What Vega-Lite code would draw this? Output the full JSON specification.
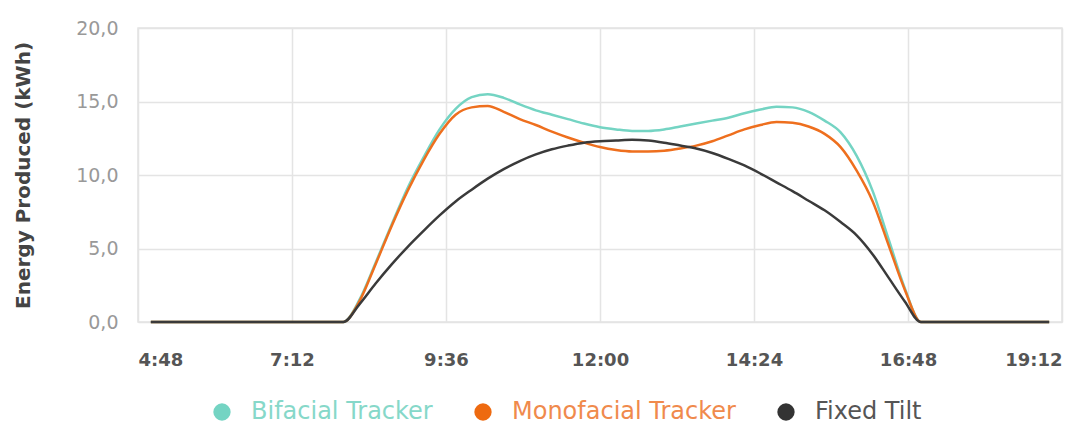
{
  "$schema": "https://vega.github.io/schema/vega-lite/v6.json",
  "width": 924,
  "height": 294,
  "autosize": "none",
  "padding": {"left": 138, "top": 28, "right": 27, "bottom": 103},
  "background": "white",
  "config": {
    "font": "DejaVu Sans",
    "view": {"stroke": "#e4e4e4", "strokeWidth": 1.5}
  },
  "data": {
    "values": [
      {"hour": 5, "series": "Bifacial Tracker", "kwh": 0},
      {"hour": 6, "series": "Bifacial Tracker", "kwh": 0},
      {"hour": 7, "series": "Bifacial Tracker", "kwh": 0},
      {"hour": 8, "series": "Bifacial Tracker", "kwh": 0},
      {"hour": 8.25, "series": "Bifacial Tracker", "kwh": 1.5},
      {"hour": 8.5, "series": "Bifacial Tracker", "kwh": 4.0},
      {"hour": 8.75, "series": "Bifacial Tracker", "kwh": 6.6},
      {"hour": 9, "series": "Bifacial Tracker", "kwh": 9.1},
      {"hour": 9.25, "series": "Bifacial Tracker", "kwh": 11.2},
      {"hour": 9.5, "series": "Bifacial Tracker", "kwh": 13.1},
      {"hour": 9.75, "series": "Bifacial Tracker", "kwh": 14.5},
      {"hour": 10, "series": "Bifacial Tracker", "kwh": 15.3},
      {"hour": 10.25, "series": "Bifacial Tracker", "kwh": 15.5},
      {"hour": 10.5, "series": "Bifacial Tracker", "kwh": 15.25},
      {"hour": 10.75, "series": "Bifacial Tracker", "kwh": 14.8},
      {"hour": 11, "series": "Bifacial Tracker", "kwh": 14.4},
      {"hour": 11.25, "series": "Bifacial Tracker", "kwh": 14.1},
      {"hour": 11.5, "series": "Bifacial Tracker", "kwh": 13.8},
      {"hour": 11.75, "series": "Bifacial Tracker", "kwh": 13.5},
      {"hour": 12, "series": "Bifacial Tracker", "kwh": 13.25},
      {"hour": 12.25, "series": "Bifacial Tracker", "kwh": 13.1},
      {"hour": 12.5, "series": "Bifacial Tracker", "kwh": 13.0},
      {"hour": 12.75, "series": "Bifacial Tracker", "kwh": 13.0},
      {"hour": 13, "series": "Bifacial Tracker", "kwh": 13.1},
      {"hour": 13.25, "series": "Bifacial Tracker", "kwh": 13.3},
      {"hour": 13.5, "series": "Bifacial Tracker", "kwh": 13.5},
      {"hour": 13.75, "series": "Bifacial Tracker", "kwh": 13.7},
      {"hour": 14, "series": "Bifacial Tracker", "kwh": 13.9},
      {"hour": 14.25, "series": "Bifacial Tracker", "kwh": 14.2},
      {"hour": 14.5, "series": "Bifacial Tracker", "kwh": 14.45},
      {"hour": 14.75, "series": "Bifacial Tracker", "kwh": 14.65},
      {"hour": 15, "series": "Bifacial Tracker", "kwh": 14.6},
      {"hour": 15.25, "series": "Bifacial Tracker", "kwh": 14.3},
      {"hour": 15.5, "series": "Bifacial Tracker", "kwh": 13.7},
      {"hour": 15.75, "series": "Bifacial Tracker", "kwh": 12.9},
      {"hour": 16, "series": "Bifacial Tracker", "kwh": 11.3},
      {"hour": 16.25, "series": "Bifacial Tracker", "kwh": 8.9},
      {"hour": 16.5, "series": "Bifacial Tracker", "kwh": 5.6},
      {"hour": 16.75, "series": "Bifacial Tracker", "kwh": 2.3},
      {"hour": 17, "series": "Bifacial Tracker", "kwh": 0},
      {"hour": 18, "series": "Bifacial Tracker", "kwh": 0},
      {"hour": 19, "series": "Bifacial Tracker", "kwh": 0},

      {"hour": 5, "series": "Monofacial Tracker", "kwh": 0},
      {"hour": 6, "series": "Monofacial Tracker", "kwh": 0},
      {"hour": 7, "series": "Monofacial Tracker", "kwh": 0},
      {"hour": 8, "series": "Monofacial Tracker", "kwh": 0},
      {"hour": 8.25, "series": "Monofacial Tracker", "kwh": 1.4},
      {"hour": 8.5, "series": "Monofacial Tracker", "kwh": 3.9},
      {"hour": 8.75, "series": "Monofacial Tracker", "kwh": 6.5},
      {"hour": 9, "series": "Monofacial Tracker", "kwh": 8.9},
      {"hour": 9.25, "series": "Monofacial Tracker", "kwh": 11.0},
      {"hour": 9.5, "series": "Monofacial Tracker", "kwh": 12.8},
      {"hour": 9.75, "series": "Monofacial Tracker", "kwh": 14.1},
      {"hour": 10, "series": "Monofacial Tracker", "kwh": 14.6},
      {"hour": 10.25, "series": "Monofacial Tracker", "kwh": 14.7},
      {"hour": 10.5, "series": "Monofacial Tracker", "kwh": 14.3},
      {"hour": 10.75, "series": "Monofacial Tracker", "kwh": 13.8},
      {"hour": 11, "series": "Monofacial Tracker", "kwh": 13.4},
      {"hour": 11.25, "series": "Monofacial Tracker", "kwh": 12.95},
      {"hour": 11.5, "series": "Monofacial Tracker", "kwh": 12.55},
      {"hour": 11.75, "series": "Monofacial Tracker", "kwh": 12.2},
      {"hour": 12, "series": "Monofacial Tracker", "kwh": 11.9},
      {"hour": 12.25, "series": "Monofacial Tracker", "kwh": 11.7},
      {"hour": 12.5, "series": "Monofacial Tracker", "kwh": 11.6},
      {"hour": 12.75, "series": "Monofacial Tracker", "kwh": 11.6},
      {"hour": 13, "series": "Monofacial Tracker", "kwh": 11.65},
      {"hour": 13.25, "series": "Monofacial Tracker", "kwh": 11.8},
      {"hour": 13.5, "series": "Monofacial Tracker", "kwh": 12.0},
      {"hour": 13.75, "series": "Monofacial Tracker", "kwh": 12.3},
      {"hour": 14, "series": "Monofacial Tracker", "kwh": 12.7},
      {"hour": 14.25, "series": "Monofacial Tracker", "kwh": 13.1},
      {"hour": 14.5, "series": "Monofacial Tracker", "kwh": 13.4},
      {"hour": 14.75, "series": "Monofacial Tracker", "kwh": 13.6},
      {"hour": 15, "series": "Monofacial Tracker", "kwh": 13.55},
      {"hour": 15.25, "series": "Monofacial Tracker", "kwh": 13.3},
      {"hour": 15.5, "series": "Monofacial Tracker", "kwh": 12.8},
      {"hour": 15.75, "series": "Monofacial Tracker", "kwh": 11.9},
      {"hour": 16, "series": "Monofacial Tracker", "kwh": 10.3},
      {"hour": 16.25, "series": "Monofacial Tracker", "kwh": 8.2},
      {"hour": 16.5, "series": "Monofacial Tracker", "kwh": 5.2},
      {"hour": 16.75, "series": "Monofacial Tracker", "kwh": 2.2},
      {"hour": 17, "series": "Monofacial Tracker", "kwh": 0},
      {"hour": 18, "series": "Monofacial Tracker", "kwh": 0},
      {"hour": 19, "series": "Monofacial Tracker", "kwh": 0},

      {"hour": 5, "series": "Fixed Tilt", "kwh": 0},
      {"hour": 6, "series": "Fixed Tilt", "kwh": 0},
      {"hour": 7, "series": "Fixed Tilt", "kwh": 0},
      {"hour": 8, "series": "Fixed Tilt", "kwh": 0},
      {"hour": 8.25, "series": "Fixed Tilt", "kwh": 1.2},
      {"hour": 8.5, "series": "Fixed Tilt", "kwh": 2.6},
      {"hour": 8.75, "series": "Fixed Tilt", "kwh": 3.9},
      {"hour": 9, "series": "Fixed Tilt", "kwh": 5.1},
      {"hour": 9.25, "series": "Fixed Tilt", "kwh": 6.2},
      {"hour": 9.5, "series": "Fixed Tilt", "kwh": 7.25},
      {"hour": 9.75, "series": "Fixed Tilt", "kwh": 8.2},
      {"hour": 10, "series": "Fixed Tilt", "kwh": 9.0},
      {"hour": 10.25, "series": "Fixed Tilt", "kwh": 9.75},
      {"hour": 10.5, "series": "Fixed Tilt", "kwh": 10.4},
      {"hour": 10.75, "series": "Fixed Tilt", "kwh": 10.95},
      {"hour": 11, "series": "Fixed Tilt", "kwh": 11.4},
      {"hour": 11.25, "series": "Fixed Tilt", "kwh": 11.75},
      {"hour": 11.5, "series": "Fixed Tilt", "kwh": 12.0},
      {"hour": 11.75, "series": "Fixed Tilt", "kwh": 12.2},
      {"hour": 12, "series": "Fixed Tilt", "kwh": 12.3},
      {"hour": 12.25, "series": "Fixed Tilt", "kwh": 12.35},
      {"hour": 12.5, "series": "Fixed Tilt", "kwh": 12.4},
      {"hour": 12.75, "series": "Fixed Tilt", "kwh": 12.35},
      {"hour": 13, "series": "Fixed Tilt", "kwh": 12.2},
      {"hour": 13.25, "series": "Fixed Tilt", "kwh": 12.0},
      {"hour": 13.5, "series": "Fixed Tilt", "kwh": 11.8},
      {"hour": 13.75, "series": "Fixed Tilt", "kwh": 11.5},
      {"hour": 14, "series": "Fixed Tilt", "kwh": 11.1},
      {"hour": 14.25, "series": "Fixed Tilt", "kwh": 10.65},
      {"hour": 14.5, "series": "Fixed Tilt", "kwh": 10.1},
      {"hour": 14.75, "series": "Fixed Tilt", "kwh": 9.5},
      {"hour": 15, "series": "Fixed Tilt", "kwh": 8.9},
      {"hour": 15.25, "series": "Fixed Tilt", "kwh": 8.25},
      {"hour": 15.5, "series": "Fixed Tilt", "kwh": 7.6},
      {"hour": 15.75, "series": "Fixed Tilt", "kwh": 6.8},
      {"hour": 16, "series": "Fixed Tilt", "kwh": 5.9},
      {"hour": 16.25, "series": "Fixed Tilt", "kwh": 4.6},
      {"hour": 16.5, "series": "Fixed Tilt", "kwh": 3.0},
      {"hour": 16.75, "series": "Fixed Tilt", "kwh": 1.4},
      {"hour": 17, "series": "Fixed Tilt", "kwh": 0},
      {"hour": 18, "series": "Fixed Tilt", "kwh": 0},
      {"hour": 19, "series": "Fixed Tilt", "kwh": 0}
    ]
  },
  "mark": {"type": "line", "interpolate": "monotone", "strokeWidth": 2.5},
  "encoding": {
    "x": {
      "field": "hour",
      "type": "quantitative",
      "scale": {"domain": [4.8, 19.2], "nice": false, "zero": false},
      "axis": {
        "title": null,
        "values": [4.8, 7.2, 9.6, 12, 14.4, 16.8, 19.2],
        "labelExpr": "floor(datum.value) + ':' + format(round((datum.value - floor(datum.value)) * 60), '02d')",
        "domain": false,
        "ticks": false,
        "labelPadding": 29,
        "labelFontSize": 18,
        "labelFontWeight": "bold",
        "labelColor": "#555555",
        "gridColor": "#e4e4e4",
        "gridWidth": 1.5
      }
    },
    "y": {
      "field": "kwh",
      "type": "quantitative",
      "scale": {"domain": [0, 20], "nice": false},
      "axis": {
        "title": "Energy Produced (kWh)",
        "titleFontSize": 20,
        "titleFontWeight": "bold",
        "titleColor": "#444444",
        "titlePadding": 42,
        "values": [0, 5, 10, 15, 20],
        "labelExpr": "replace(format(datum.value, '.1f'), '.', ',')",
        "domain": false,
        "ticks": false,
        "labelPadding": 20,
        "labelFontSize": 19,
        "labelColor": "#999999",
        "gridColor": "#e4e4e4",
        "gridWidth": 1.5
      }
    },
    "color": {
      "field": "series",
      "type": "nominal",
      "scale": {
        "domain": ["Bifacial Tracker", "Monofacial Tracker", "Fixed Tilt"],
        "range": ["#74d4c3", "#ee6f1e", "#3a3a3a"]
      },
      "legend": {
        "title": null,
        "orient": "none",
        "direction": "horizontal",
        "legendX": 72,
        "legendY": 372,
        "symbolType": "circle",
        "symbolSize": 300,
        "symbolStrokeWidth": 0,
        "symbolOpacity": 1,
        "symbolFillColor": {"expr": "datum.label == 'Bifacial Tracker' ? '#74d4c3' : datum.label == 'Monofacial Tracker' ? '#ee6a10' : '#333333'"},
        "labelFontSize": 24,
        "labelLimit": 400,
        "labelOffset": 17,
        "columnPadding": 38,
        "labelColor": {"expr": "datum.label == 'Bifacial Tracker' ? '#86d8c9' : datum.label == 'Monofacial Tracker' ? '#f08a4c' : '#555555'"}
      }
    }
  }
}
